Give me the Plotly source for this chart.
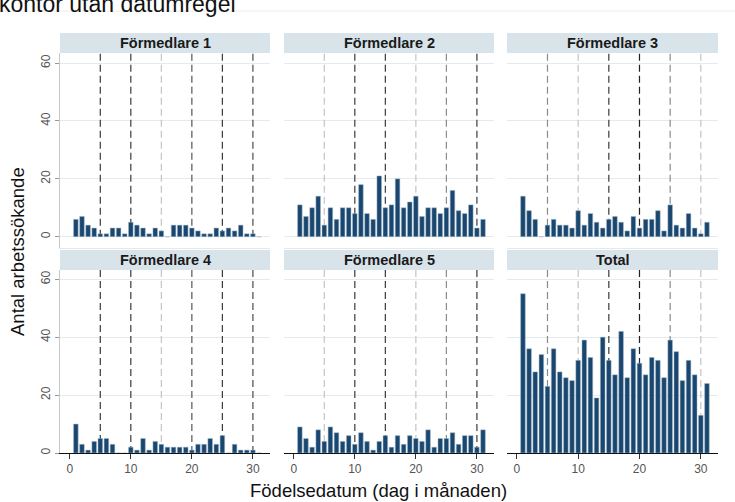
import plotly.graph_objects as go

# Job seekers per birth day (day of month), per employment officer and in total
days = list(range(1, 32))

formedlare_1 = [6, 7, 4, 3, 1, 1, 3, 3, 1, 5, 4, 3, 1, 3, 2, 0, 4, 4, 4, 3, 2, 1, 1, 3, 2, 3, 2, 4, 1, 1, 0]
formedlare_2 = [11, 7, 10, 14, 4, 10, 6, 10, 10, 8, 18, 8, 6, 21, 10, 11, 20, 10, 12, 14, 7, 10, 10, 8, 10, 16, 9, 8, 11, 3, 6]
formedlare_3 = [14, 9, 6, 0, 4, 6, 4, 4, 3, 9, 4, 8, 5, 3, 6, 7, 5, 2, 7, 3, 6, 6, 9, 2, 11, 4, 3, 8, 3, 1, 5]
formedlare_4 = [10, 3, 1, 4, 5, 5, 3, 0, 0, 2, 1, 5, 1, 4, 3, 2, 2, 2, 2, 1, 3, 3, 5, 3, 6, 0, 3, 1, 1, 1, 0]
formedlare_5 = [9, 5, 2, 8, 4, 9, 7, 4, 6, 3, 7, 4, 1, 4, 6, 2, 6, 3, 6, 5, 4, 8, 2, 5, 5, 7, 3, 6, 6, 2, 8]
total = [55, 36, 28, 34, 23, 36, 28, 26, 25, 32, 39, 33, 19, 40, 32, 27, 42, 26, 36, 31, 27, 33, 32, 26, 39, 35, 25, 32, 27, 13, 24]

panel_titles = ["Förmedlare 1", "Förmedlare 2", "Förmedlare 3", "Förmedlare 4", "Förmedlare 5", "Total"]
panel_values = [formedlare_1, formedlare_2, formedlare_3, formedlare_4, formedlare_5, total]

# Reference days marked with dashed lines
ref_days = [5, 10, 15, 20, 25, 30]

y_ticks = [0, 20, 40, 60]
x_ticks = [0, 10, 20, 30]

# ---- styling ----
FONT = "Liberation Sans, Arial, sans-serif"
BAR_COLOR = "#1a476f"
GRID = "#e2ebee"
STRIP_BG = "#d8e4ea"
DARK, MID, LIGHT = "#3a3a3a", "#8a8a8a", "#c4c4c4"
line_shades = {
    0: [DARK, DARK, LIGHT, "#555555", DARK, "#4a4a4a"],
    1: [LIGHT, DARK, DARK, LIGHT, MID, DARK],
    2: [MID, LIGHT, DARK, "#222222", MID, LIGHT],
}
line_shades[3] = line_shades[0]
line_shades[4] = line_shades[1]
line_shades[5] = line_shades[2]

W, H = 735, 502
ML, MR, MT, MB = 60, 17, 33, 49
PW, PH = W - ML - MR, H - MT - MB

def px_x(px):
    return (px - ML) / PW

def px_y(py):
    return (H - MB - py) / PH

col_px = [(60, 270), (284, 494), (507, 718)]
row_plot_px = [(53, 248), (270, 453)]
row_strip_px = [(33, 53), (250, 270)]
row_yrange = [[-3.9, 63.5], [0, 63.2]]
x_range = [-1.6, 32.8]

fig = go.Figure()
layout = dict(
    width=W, height=H,
    margin=dict(l=ML, r=MR, t=MT, b=MB),
    plot_bgcolor="white", paper_bgcolor="white",
    showlegend=False, bargap=0.25,
    font=dict(family=FONT, color="#222222"),
)
shapes, annotations = [], []

for i, (title, vals) in enumerate(zip(panel_titles, panel_values)):
    r, c = divmod(i, 3)
    n = "" if i == 0 else str(i + 1)
    xa, ya = "x" + n, "y" + n
    fig.add_trace(go.Bar(
        x=days, y=vals, xaxis=xa, yaxis=ya,
        marker=dict(color=BAR_COLOR, line=dict(color="#9fb6c8", width=0.5)),
        hoverinfo="x+y",
    ))
    x0, x1 = col_px[c]
    top, bottom = row_plot_px[r]
    bottom_row = r == 1
    left_col = c == 0
    layout["xaxis" + n] = dict(
        domain=[px_x(x0), px_x(x1)], range=x_range, anchor=ya,
        showgrid=False, zeroline=False,
        showline=True, linecolor="#111111" if bottom_row else "#e3e9ec", linewidth=1,
        tickvals=x_ticks, showticklabels=bottom_row,
        ticks="outside" if bottom_row else "", ticklen=5, tickcolor="#333333",
        tickfont=dict(size=12, color="#555555", family=FONT),
    )
    layout["yaxis" + n] = dict(
        domain=[px_y(bottom), px_y(top)], range=row_yrange[r], anchor=xa,
        showgrid=True, gridcolor=GRID, gridwidth=1, zeroline=False,
        tickvals=y_ticks, showticklabels=left_col, tickangle=-90,
        showline=left_col, linecolor="#c8c8c8", linewidth=1,
        ticks="outside" if left_col else "", ticklen=4, tickcolor="#999999",
        tickfont=dict(size=12, color="#555555", family=FONT),
    )
    # dashed reference lines
    for d, col in zip(ref_days, line_shades[i]):
        shapes.append(dict(
            type="line", xref=xa, yref=ya, x0=d, x1=d, y0=0, y1=row_yrange[r][1],
            line=dict(color=col, width=1.2, dash="7px,4px"), layer="between",
        ))
    # strip header
    s0, s1 = row_strip_px[r]
    shapes.append(dict(
        type="rect", xref="paper", yref="paper",
        x0=px_x(x0), x1=px_x(x1), y0=px_y(s1), y1=px_y(s0),
        fillcolor=STRIP_BG, line=dict(width=0), layer="above",
    ))
    annotations.append(dict(
        xref="paper", yref="paper", x=(px_x(x0) + px_x(x1)) / 2, y=(px_y(s0) + px_y(s1)) / 2,
        text="<b>%s</b>" % title, showarrow=False, xanchor="center", yanchor="middle",
        font=dict(size=14.5, color="#1a1a1a", family=FONT),
    ))

# axis titles
annotations.append(dict(
    xref="paper", yref="paper", x=px_x(18), y=px_y(252), text="Antal arbetssökande",
    textangle=-90, showarrow=False, xanchor="center", yanchor="middle",
    font=dict(size=18.5, color="#111111", family=FONT),
))
annotations.append(dict(
    xref="paper", yref="paper", x=px_x(378), y=px_y(491), text="Födelsedatum (dag i månaden)",
    showarrow=False, xanchor="center", yanchor="middle",
    font=dict(size=18.5, color="#111111", family=FONT),
))
# heading line running off the top edge
annotations.append(dict(
    xref="paper", yref="paper", x=px_x(-3), y=px_y(4), text="kontor utan datumregel",
    showarrow=False, xanchor="left", yanchor="middle",
    font=dict(size=23, color="#111111", family=FONT),
))
shapes.append(dict(
    type="line", xref="paper", yref="paper", x0=px_x(0), x1=px_x(W), y0=px_y(11), y1=px_y(11),
    line=dict(color="#ececec", width=1),
))

layout["shapes"] = shapes
layout["annotations"] = annotations
fig.update_layout(**layout)
fig.write_html("out.html")
